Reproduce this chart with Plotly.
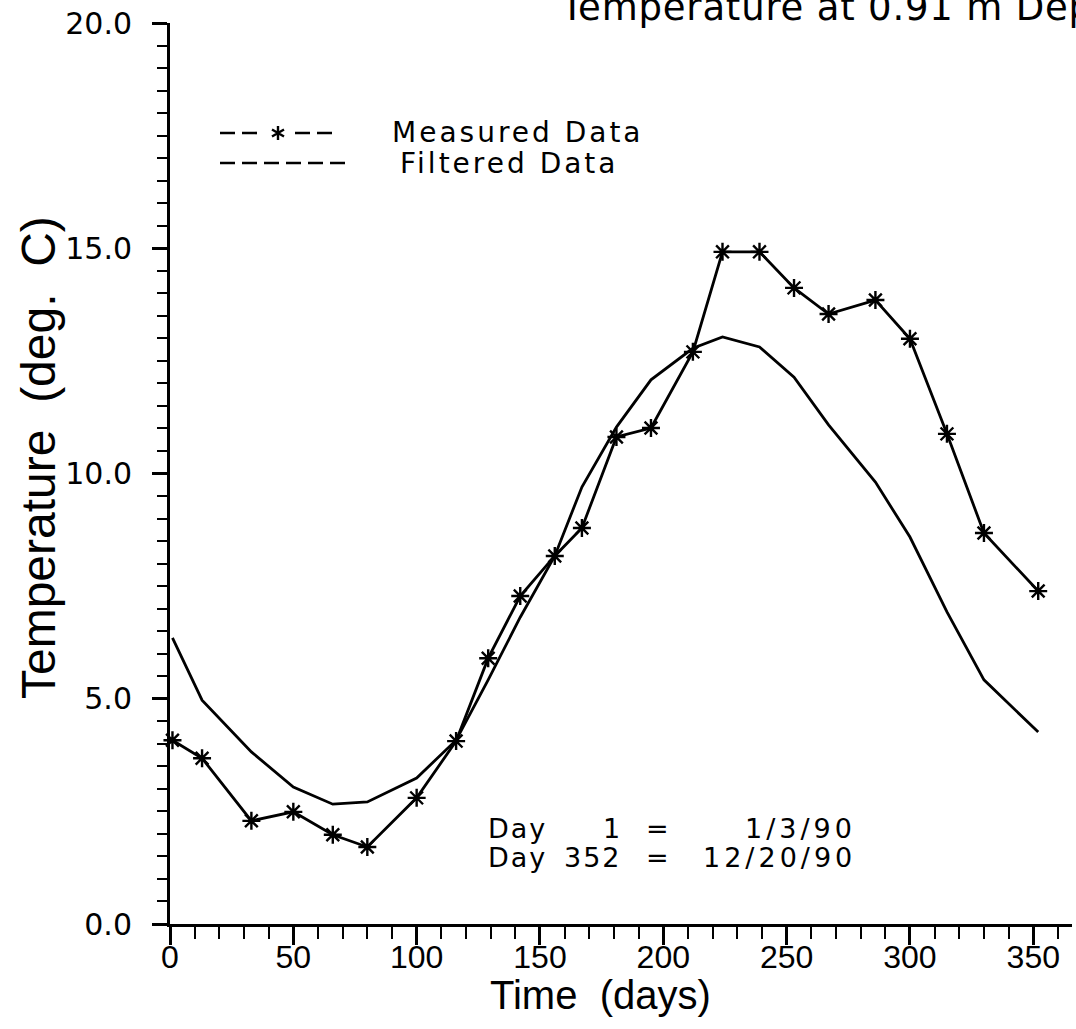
import plotly.graph_objects as go

# ---- data ----
days = [1, 13, 33, 50, 66, 80, 100, 116, 129, 142, 156, 167, 181, 195,
        212, 224, 239, 253, 267, 286, 300, 315, 330, 352]
measured = [4.08, 3.68, 2.29, 2.49, 1.98, 1.71, 2.80, 4.06, 5.90, 7.28, 8.17, 8.79,
            10.81, 11.01, 12.70, 14.92, 14.92, 14.12, 13.54, 13.85, 12.99, 10.88, 8.68, 7.39]
filtered = [6.35, 4.97, 3.82, 3.04, 2.66, 2.71, 3.24, 4.08, 5.42, 6.81, 8.17, 9.70,
            11.03, 12.08, 12.78, 13.03, 12.81, 12.14, 11.08, 9.81, 8.59, 6.93, 5.42, 4.26]
x_ticks = [0, 50, 100, 150, 200, 250, 300, 350]
y_ticks = [0, 5, 10, 15, 20]
y_ticklabels = ["0.0", "5.0", "10.0", "15.0", "20.0"]
legend_names = ["Measured Data", "Filtered Data"]
day_rows = [("1", "1/3/90"), ("352", "12/20/90")]
title_text = "Temperature at 0.91 m Depth"
x_title = "Time  (days)"
y_title = "Temperature  (deg.  C)"

WIDE = "DejaVu Sans, Verdana, sans-serif"
NARROW = "Liberation Sans Narrow, Arial Narrow, Liberation Sans, sans-serif"
BLACK = "#000000"


def spaced(t, px_):
    return '<span style="letter-spacing:%spx">%s</span>' % (px_, t)


fig = go.Figure()
fig.add_trace(go.Scatter(x=days, y=filtered, mode="lines",
                         line=dict(color=BLACK, width=2.8), cliponaxis=False,
                         name=legend_names[1], showlegend=False))
fig.add_trace(go.Scatter(x=days, y=measured, mode="lines+markers",
                         line=dict(color=BLACK, width=2.8),
                         marker=dict(symbol="asterisk-open", size=15,
                                     line=dict(color=BLACK, width=2.4)),
                         cliponaxis=False, name=legend_names[0], showlegend=False))

W, H = 1076, 1029
L, R, T, B = 170, 4, 23, 105
pw, ph = W - L - R, H - T - B


def px(xp):
    return (xp - L) / pw


def py(yp):
    return (H - B - yp) / ph


shapes = []
annotations = []

# legend: measured (dashes + star)
ly1, ly2 = 133, 163
dash = "15px,7px"
shapes.append(dict(type="line", xref="paper", yref="paper", x0=px(220), x1=px(262),
                   y0=py(ly1), y1=py(ly1), line=dict(color=BLACK, width=2.6, dash=dash)))
shapes.append(dict(type="line", xref="paper", yref="paper", x0=px(295), x1=px(338),
                   y0=py(ly1), y1=py(ly1), line=dict(color=BLACK, width=2.6, dash=dash)))
shapes.append(dict(type="path", xref="paper", yref="paper", xsizemode="pixel", ysizemode="pixel",
                   xanchor=px(278), yanchor=py(ly1),
                   path="M0,-7 L0,7 M-6,-3.5 L6,3.5 M-6,3.5 L6,-3.5",
                   line=dict(color=BLACK, width=2.4)))
shapes.append(dict(type="line", xref="paper", yref="paper", x0=px(220), x1=px(345),
                   y0=py(ly2), y1=py(ly2), line=dict(color=BLACK, width=2.6, dash=dash)))
leg_font = dict(family=WIDE, size=28, color=BLACK)
annotations.append(dict(text=spaced(legend_names[0], 3), xref="paper", yref="paper", x=px(390), y=py(ly1),
                        xanchor="left", yanchor="middle", showarrow=False, font=leg_font))
annotations.append(dict(text=spaced(legend_names[1], 3), xref="paper", yref="paper", x=px(398), y=py(ly2),
                        xanchor="left", yanchor="middle", showarrow=False, font=leg_font))

# day annotation block
f = dict(family=WIDE, size=27, color=BLACK)
for i, (d, date) in enumerate(day_rows):
    yy = py(828 + i * 29)
    annotations.append(dict(text=spaced("Day", 2), xref="paper", yref="paper", x=px(486), y=yy,
                            xanchor="left", yanchor="middle", showarrow=False, font=f))
    annotations.append(dict(text=spaced(d, 2), xref="paper", yref="paper", x=px(624), y=yy,
                            xanchor="right", yanchor="middle", showarrow=False, font=f))
    annotations.append(dict(text="=", xref="paper", yref="paper", x=px(657), y=yy,
                            xanchor="center", yanchor="middle", showarrow=False, font=f))
    annotations.append(dict(text=spaced(date, 4), xref="paper", yref="paper", x=px(858), y=yy,
                            xanchor="right", yanchor="middle", showarrow=False, font=f))

# title (cut off at the top/right like the reference)
annotations.append(dict(text=spaced(title_text, 0.8), xref="paper", yref="paper", x=px(558), y=py(7),
                        xanchor="left", yanchor="middle", showarrow=False,
                        font=dict(family=WIDE, size=37, color=BLACK)))

# axis titles
annotations.append(dict(text=x_title, xref="paper", yref="paper", x=px(600), y=py(995),
                        xanchor="center", yanchor="middle", showarrow=False,
                        font=dict(family=NARROW, size=40, color=BLACK)))
annotations.append(dict(text=y_title, xref="paper", yref="paper", x=px(38), y=py(458),
                        xanchor="center", yanchor="middle", textangle=-90, showarrow=False,
                        font=dict(family=NARROW, size=48, color=BLACK)))

fig.update_layout(
    width=W, height=H,
    margin=dict(l=L, r=R, t=T, b=B, autoexpand=False),
    paper_bgcolor="white", plot_bgcolor="white",
    showlegend=False,
    shapes=shapes, annotations=annotations,
    xaxis=dict(range=[0, 365.7], tickvals=x_ticks, ticks="outside", ticklen=18, tickwidth=2.5,
               tickcolor=BLACK, showline=True, linecolor=BLACK, linewidth=3,
               showgrid=False, zeroline=False, ticklabelstandoff=-15,
               minor=dict(dtick=10, tick0=0, ticks="outside", ticklen=12, tickwidth=2, tickcolor=BLACK),
               tickfont=dict(family=NARROW, size=32, color=BLACK)),
    yaxis=dict(range=[0, 20], tickvals=y_ticks, ticktext=y_ticklabels, ticks="outside",
               ticklen=15, tickwidth=2.5, tickcolor=BLACK, showline=True, linecolor=BLACK,
               linewidth=3, showgrid=False, zeroline=False,
               minor=dict(dtick=0.5, tick0=0, ticks="outside", ticklen=10, tickwidth=2, tickcolor=BLACK),
               tickfont=dict(family=WIDE, size=30, color=BLACK), ticklabelstandoff=14),
)

fig.write_html("out.html")
